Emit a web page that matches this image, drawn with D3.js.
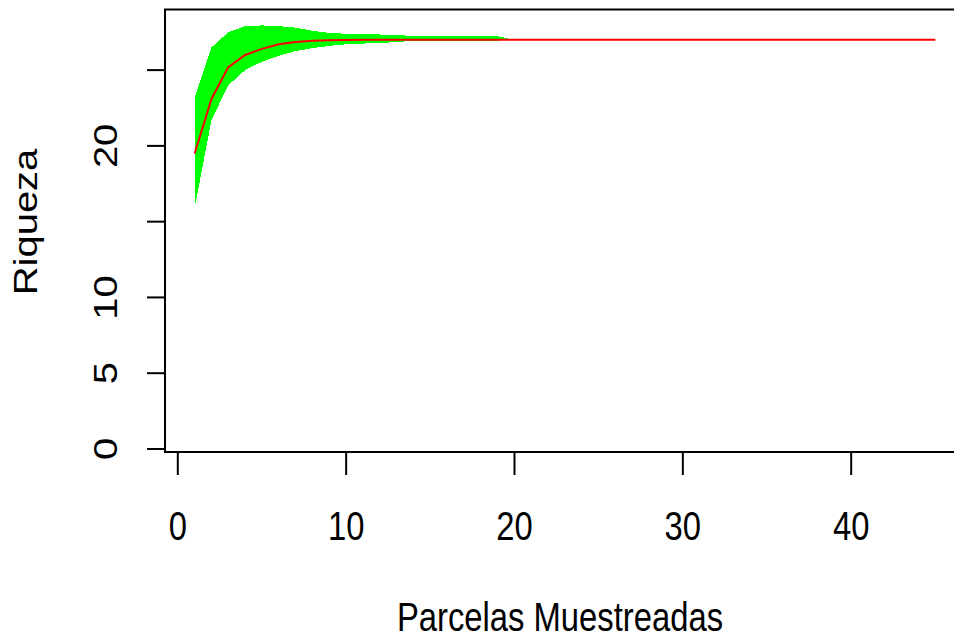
<!DOCTYPE html>
<html>
<head>
<meta charset="utf-8">
<script src="https://cdn.jsdelivr.net/npm/d3@7"></script>
<style>
  body { margin: 0; background: #fff; }
  svg { display: block; }
  text { font-family: "Liberation Sans", Arial, sans-serif; fill: #000; }
</style>
</head>
<body>
<script>
//Chart data
var sites = [1,2,3,4,5,6,7,8,9,10,11,12,13,14,15,16,17,18,19,20,
             21,22,23,24,25,26,27,28,29,30,31,32,33,34,35,36,37,38,39,40,
             41,42,43,44,45];
var richness = [19.5,23.1,25.2,26.0,26.4,26.7,26.85,26.93,26.97,26.99,
                27,27,27,27,27,27,27,27,27,27,
                27,27,27,27,27,27,27,27,27,27,
                27,27,27,27,27,27,27,27,27,27,
                27,27,27,27,27];
var upper = [23.2,26.5,27.5,27.9,27.95,27.9,27.8,27.6,27.45,27.4,
             27.37,27.35,27.33,27.24,27.24,27.24,27.24,27.24,27.24,27,
             27,27,27,27,27,27,27,27,27,27,
             27,27,27,27,27,27,27,27,27,27,
             27,27,27,27,27];
var lower = [15.9,21.7,24.0,25.0,25.55,25.95,26.25,26.45,26.6,26.7,
             26.75,26.8,26.84,26.95,26.95,26.95,26.95,26.95,26.95,27,
             27,27,27,27,27,27,27,27,27,27,
             27,27,27,27,27,27,27,27,27,27,
             27,27,27,27,27];
var xTicks = [0,10,20,30,40];
var yTicks = [0,5,10,15,20,25];
var yTickLabels = ["0","5","10","","20",""];
var xTitle = "Parcelas Muestreadas";
var yTitle = "Riqueza";

//Width and height
var w = 954;
var h = 641;

//Plot box (the right edge falls just outside the picture)
var box = { left: 165, right: 965, top: 9.5, bottom: 452 };

//Scales
var x = d3.scaleLinear()
            .domain([-0.76, 46.76])
            .range([box.left, box.right]);
var y = d3.scaleLinear()
            .domain([-0.2, 29.0])
            .range([box.bottom, box.top]);

//Text is slightly squeezed horizontally in the picture
var squeeze = 0.82;

//Create SVG element
var svg = d3.select("body")
            .append("svg")
            .attr("width", w)
            .attr("height", h);

var rows = sites.map(function(s, i) {
    return { site: s, mean: richness[i], hi: upper[i], lo: lower[i] };
});

//Confidence envelope
var area = d3.area()
            .x(function(d) { return x(d.site); })
            .y0(function(d) { return y(d.lo); })
            .y1(function(d) { return y(d.hi); });

svg.append("path")
    .datum(rows)
    .attr("d", area)
    .attr("fill", "#00ff00")
    .attr("shape-rendering", "crispEdges");

//Accumulation curve
var line = d3.line()
            .x(function(d) { return x(d.site); })
            .y(function(d) { return y(d.mean); });

svg.append("path")
    .datum(rows)
    .attr("d", line)
    .attr("fill", "none")
    .attr("stroke", "#ff0000")
    .attr("stroke-width", 2);

//Box
svg.append("rect")
    .attr("x", box.left)
    .attr("y", box.top)
    .attr("width", box.right - box.left)
    .attr("height", box.bottom - box.top)
    .attr("fill", "none")
    .attr("stroke", "#000")
    .attr("stroke-width", 2);

//X axis ticks and labels
svg.selectAll(".xtick")
    .data(xTicks)
    .enter()
    .append("line")
    .attr("class", "xtick")
    .attr("x1", function(d) { return x(d); })
    .attr("x2", function(d) { return x(d); })
    .attr("y1", box.bottom)
    .attr("y2", box.bottom + 23)
    .attr("stroke", "#000")
    .attr("stroke-width", 2);

svg.selectAll(".xlabel")
    .data(xTicks)
    .enter()
    .append("text")
    .attr("class", "xlabel")
    .attr("text-anchor", "middle")
    .attr("font-size", 40)
    .attr("transform", function(d) {
        return "translate(" + x(d) + ",540) scale(" + squeeze + ",1)";
    })
    .text(function(d) { return d; });

//Y axis ticks and labels
svg.selectAll(".ytick")
    .data(yTicks)
    .enter()
    .append("line")
    .attr("class", "ytick")
    .attr("x1", box.left - 18)
    .attr("x2", box.left)
    .attr("y1", function(d) { return y(d); })
    .attr("y2", function(d) { return y(d); })
    .attr("stroke", "#000")
    .attr("stroke-width", 2);

svg.selectAll(".ylabel")
    .data(yTicks)
    .enter()
    .append("text")
    .attr("class", "ylabel")
    .attr("text-anchor", "middle")
    .attr("font-size", 40)
    .attr("transform", function(d) {
        return "translate(117," + y(d) + ") rotate(-90) scale(1," + squeeze + ")";
    })
    .text(function(d, i) { return yTickLabels[i]; });

//Axis titles
svg.append("text")
    .attr("text-anchor", "middle")
    .attr("font-size", 40)
    .attr("transform", "translate(560,631) scale(" + squeeze + ",1)")
    .text(xTitle);

svg.append("text")
    .attr("text-anchor", "middle")
    .attr("font-size", 40)
    .attr("transform", "translate(36.5,222) rotate(-90) scale(1," + squeeze + ")")
    .text(yTitle);
</script>
</body>
</html>
